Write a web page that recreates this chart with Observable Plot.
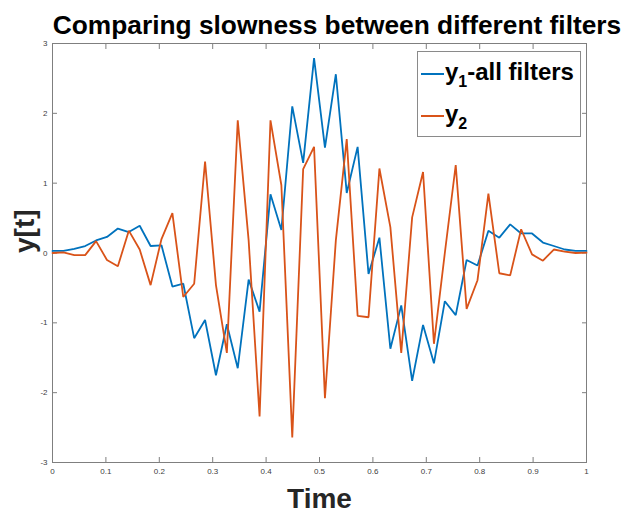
<!DOCTYPE html>
<html>
<head>
<meta charset="utf-8">
<script src="https://cdn.jsdelivr.net/npm/d3@7"></script>
<script src="https://cdn.jsdelivr.net/npm/@observablehq/plot@0.6"></script>
<style>
  html, body { margin: 0; padding: 0; background: #fff; }
  body { width: 625px; height: 513px; overflow: hidden; font-family: "Liberation Sans", Arial, Helvetica, sans-serif; }
  #wrap { position: relative; width: 625px; height: 513px; }
  #title { position: absolute; top: 0; left: 0; width: 625px; height: 40px; }
  #title span { position: absolute; left: 337px; top: 12px; transform: translateX(-50%); white-space: nowrap;
    font-size: 26.3px; line-height: 26px; font-weight: bold; color: #000; }
  #chart { position: absolute; top: 40px; left: 0; }
  #legend { position: absolute; left: 417px; top: 51px; width: 162px; height: 84px; border: 1px solid #8a8a8a; background: #fff; }
  .item { position: absolute; left: 0; height: 30px; font-weight: bold; font-size: 24px; color: #000; white-space: nowrap; }
  .item .sw { position: absolute; left: 3px; width: 23px; height: 0; border-top: 2px solid; }
  .item .lab { position: absolute; left: 27px; top: 0; line-height: 24px; }
  .item sub { font-size: 16px; vertical-align: -7px; line-height: 0; }
</style>
</head>
<body>
<div id="wrap">
  <div id="title"><span id="titleText"></span></div>
  <div id="chart"></div>
  <div id="legend"></div>
</div>
<script>
// ---- data ----
const titleText = "Comparing slowness between different filters";
const xLabel = "Time";
const yLabel = "y[t]";
const seriesNames = ["y1-all filters", "y2"];
const seriesColors = ["#0072BD", "#D95319"];

const t = [0, 0.0204, 0.0408, 0.0612, 0.0816, 0.1020, 0.1224, 0.1429, 0.1633, 0.1837,
  0.2041, 0.2245, 0.2449, 0.2653, 0.2857, 0.3061, 0.3265, 0.3469, 0.3673, 0.3878,
  0.4082, 0.4286, 0.4490, 0.4694, 0.4898, 0.5102, 0.5306, 0.5510, 0.5714, 0.5918,
  0.6122, 0.6327, 0.6531, 0.6735, 0.6939, 0.7143, 0.7347, 0.7551, 0.7755, 0.7959,
  0.8163, 0.8367, 0.8571, 0.8776, 0.8980, 0.9184, 0.9388, 0.9592, 0.9796, 1];

const y1 = [0.03, 0.03, 0.06, 0.10, 0.18, 0.23, 0.35, 0.30, 0.39, 0.10,
  0.11, -0.48, -0.44, -1.22, -0.96, -1.75, -1.02, -1.65, -0.38, -0.84,
  0.84, 0.33, 2.10, 1.29, 2.79, 1.51, 2.56, 0.86, 1.52, -0.30,
  0.22, -1.37, -0.75, -1.83, -1.03, -1.58, -0.69, -0.89, -0.10, -0.18,
  0.32, 0.22, 0.41, 0.28, 0.28, 0.15, 0.10, 0.05, 0.03, 0.03];

const y2 = [0, 0.01, -0.03, -0.03, 0.17, -0.10, -0.19, 0.32, 0.05, -0.46,
  0.20, 0.57, -0.63, -0.44, 1.31, -0.46, -1.43, 1.90, 0.18, -2.34,
  1.90, 0.97, -2.64, 1.20, 1.52, -2.08, 0.18, 1.63, -0.90, -0.92,
  1.21, 0.37, -1.43, 0.51, 1.16, -1.30, 0.00, 1.26, -0.80, -0.39,
  0.85, -0.29, -0.32, 0.34, -0.02, -0.11, 0.05, 0.02, 0.00, 0.005];

const xTicks = [0, 0.1, 0.2, 0.3, 0.4, 0.5, 0.6, 0.7, 0.8, 0.9, 1];
const yTicks = [-3, -2, -1, 0, 1, 2, 3];

// ---- build ----
document.getElementById("titleText").textContent = titleText;

const rows1 = t.map((x, i) => ({x, y: y1[i]}));
const rows2 = t.map((x, i) => ({x, y: y2[i]}));

const axisColor = "#7f7f7f";
const textColor = "#404040";
const fmt = d => String(d);
const tk = 5; // inward tick length

const chart = Plot.plot({
  width: 625,
  height: 473,
  marginTop: 3,
  marginLeft: 52,
  marginRight: 39,
  marginBottom: 51,
  style: {fontFamily: "'Liberation Sans', Arial, Helvetica, sans-serif", background: "#fff"},
  x: {domain: [0, 1]},
  y: {domain: [-3, 3]},
  marks: [
    // tick labels
    Plot.axisX({anchor: "bottom", ticks: xTicks, tickSize: 0, tickPadding: 6, tickFormat: fmt,
      fontSize: 8, fill: textColor, label: null}),
    Plot.axisY({anchor: "left", ticks: yTicks, tickSize: 0, tickPadding: 5, tickFormat: fmt,
      fontSize: 8, fill: textColor, label: null}),
    // inward ticks (shifted into the frame)
    Plot.axisX({anchor: "bottom", ticks: xTicks, tickSize: tk, dy: -tk, tickFormat: () => "", stroke: axisColor, label: null}),
    Plot.axisX({anchor: "top", ticks: xTicks, tickSize: tk, dy: tk, tickFormat: () => "", stroke: axisColor, label: null}),
    Plot.axisY({anchor: "left", ticks: yTicks, tickSize: tk, dx: tk, tickFormat: () => "", stroke: axisColor, label: null}),
    Plot.axisY({anchor: "right", ticks: yTicks, tickSize: tk, dx: -tk, tickFormat: () => "", stroke: axisColor, label: null}),
    Plot.frame({stroke: axisColor, strokeWidth: 1}),
    Plot.line(rows1, {x: "x", y: "y", stroke: seriesColors[0], strokeWidth: 1.8, strokeLinejoin: "miter"}),
    Plot.line(rows2, {x: "x", y: "y", stroke: seriesColors[1], strokeWidth: 1.8, strokeLinejoin: "miter"}),
    Plot.text([xLabel], {text: d => d, frameAnchor: "bottom", lineAnchor: "bottom", dy: 45,
      fontSize: 28, fontWeight: "bold", fill: "#262626"}),
    Plot.text([yLabel], {text: d => d, frameAnchor: "left", rotate: -90, dx: -27, dy: 0, lineAnchor: "middle",
      fontSize: 28, fontWeight: "bold", fill: "#262626"})
  ]
});
document.getElementById("chart").appendChild(chart);

// legend
const legend = document.getElementById("legend");
const items = [
  {color: seriesColors[0], html: "y<sub>1</sub>-all filters", top: 8},
  {color: seriesColors[1], html: "y<sub>2</sub>", top: 50}
];
items.forEach(it => {
  const d = document.createElement("div");
  d.className = "item";
  d.style.top = it.top + "px";
  d.innerHTML = `<div class="sw" style="border-color:${it.color};top:13px"></div><div class="lab">${it.html}</div>`;
  legend.appendChild(d);
});
</script>
</body>
</html>
